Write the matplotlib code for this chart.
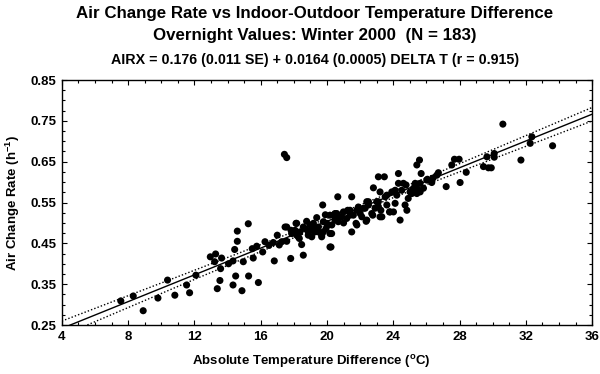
import numpy as np
import matplotlib
matplotlib.use("Agg")
import matplotlib.pyplot as plt
from matplotlib.ticker import MultipleLocator

plt.rcParams['font.family'] = ['Liberation Sans', 'DejaVu Sans']
plt.rcParams['font.weight'] = 'bold'
plt.rcParams['mathtext.fontset'] = 'custom'
plt.rcParams['mathtext.rm'] = 'Liberation Sans:bold'
plt.rcParams['mathtext.bf'] = 'Liberation Sans:bold'
plt.rcParams['mathtext.it'] = 'Liberation Sans:bold'

# Absolute temperature difference (deg C) and air change rate (1/h)
delta_t = [
    7.56, 8.31, 8.91, 9.80, 10.38, 10.82, 11.53, 11.71, 12.09, 12.96, 13.28, 13.22,
    13.64, 13.58, 13.38, 13.54, 14.06, 14.33, 14.43, 14.59, 14.59, 15.25, 14.49, 14.33,
    14.87, 15.27, 14.95, 15.55, 15.49, 15.76, 15.86, 16.12, 16.26,
    16.82, 16.76, 17.12, 17.43, 17.57, 17.47, 17.57, 17.81, 17.83, 18.13, 18.17, 18.33,
    18.47, 18.57, 18.67, 18.77, 18.87, 18.98, 19.08, 19.18, 19.38, 19.48, 19.68, 19.74,
    19.78, 19.94, 20.08, 20.18, 20.24, 20.28, 20.48, 20.65, 20.68, 20.89, 20.99, 21.19,
    21.25, 21.39, 21.49, 21.49, 21.59, 21.75, 21.80, 21.89, 22.00, 22.20, 22.36, 22.40,
    22.50, 22.70, 22.80, 22.90, 23.10, 23.10, 23.20, 23.25, 23.31, 23.46, 23.51, 23.61,
    23.77, 23.91, 24.01, 24.11, 24.21, 24.31, 24.41, 24.51, 24.61, 24.71, 24.77, 24.82,
    25.01, 25.22, 25.42, 25.42, 25.58, 25.62, 25.68, 25.82, 26.02,
    21.80, 22.40, 22.76, 23.20, 23.81, 23.00, 23.10, 22.50, 22.30, 21.90, 21.39, 20.79,
    20.59, 20.49, 20.29, 20.18, 20.39, 19.98, 19.78, 19.68, 19.48, 19.18, 19.08, 18.87,
    18.57, 18.37, 18.27, 18.07, 17.87, 18.17, 17.57, 17.27, 20.18, 19.28, 24.11, 24.31,
    25.32, 25.42, 25.12, 23.61, 25.62, 26.63,
    16.50, 17.00, 19.90, 21.00, 22.10, 24.90, 26.40,
    26.06, 26.32, 26.72, 27.19, 27.53, 27.69, 27.97, 28.03, 28.40, 29.44, 29.65, 29.74,
    29.91, 30.09, 30.09, 30.61, 31.70, 32.26, 32.36, 33.61,
]
air_change = [
    0.309, 0.321, 0.285, 0.316, 0.360, 0.323, 0.348, 0.329, 0.372, 0.417, 0.424, 0.405,
    0.414, 0.388, 0.339, 0.359, 0.400, 0.407, 0.435, 0.455, 0.480, 0.498, 0.370, 0.348,
    0.334, 0.370, 0.405, 0.414, 0.437, 0.443, 0.354, 0.429, 0.454,
    0.407, 0.452, 0.446, 0.668, 0.660, 0.490, 0.455, 0.413, 0.482, 0.499, 0.470, 0.462,
    0.447, 0.421, 0.486, 0.504, 0.478, 0.495, 0.466, 0.486, 0.513, 0.478, 0.470, 0.544,
    0.503, 0.486, 0.495, 0.519, 0.441, 0.474, 0.523, 0.564, 0.503, 0.515, 0.527, 0.511,
    0.531, 0.519, 0.564, 0.478, 0.519, 0.499, 0.531, 0.539, 0.523, 0.536, 0.504, 0.552,
    0.544, 0.523, 0.586, 0.536, 0.552, 0.613, 0.576, 0.531, 0.515, 0.613, 0.564, 0.544,
    0.527, 0.576, 0.527, 0.548, 0.568, 0.621, 0.507, 0.580, 0.597, 0.544, 0.593, 0.531,
    0.576, 0.585, 0.572, 0.642, 0.654, 0.597, 0.621, 0.585, 0.605,
    0.495, 0.507, 0.519, 0.515, 0.527, 0.552, 0.540, 0.552, 0.536, 0.536, 0.531, 0.515,
    0.523, 0.507, 0.495, 0.474, 0.519, 0.499, 0.478, 0.466, 0.490, 0.499, 0.482, 0.470,
    0.490, 0.478, 0.466, 0.482, 0.474, 0.499, 0.490, 0.454, 0.441, 0.478, 0.580, 0.597,
    0.597, 0.585, 0.572, 0.568, 0.576, 0.617,
    0.445, 0.470, 0.520, 0.500, 0.515, 0.560, 0.610,
    0.607, 0.599, 0.623, 0.589, 0.642, 0.656, 0.656, 0.599, 0.624, 0.638, 0.662, 0.635,
    0.635, 0.670, 0.661, 0.742, 0.654, 0.695, 0.711, 0.689,
]

# Regression reported in the title
intercept, intercept_se = 0.176, 0.011
slope, slope_se = 0.0164, 0.0005
t_crit = 1.973

x_ticks = [4, 8, 12, 16, 20, 24, 28, 32, 36]
y_ticks = [0.25, 0.35, 0.45, 0.55, 0.65, 0.75, 0.85]

fig = plt.figure(figsize=(6.0, 3.74), dpi=100)
ax = fig.add_axes([0.103, 0.131, 0.884, 0.655])

x = np.asarray(delta_t)
y = np.asarray(air_change)
xbar = x.mean()
s2n = max(intercept_se**2 - xbar**2 * slope_se**2, 1e-6)

xl = np.linspace(x_ticks[0], x_ticks[-1], 200)
yl = intercept + slope * xl
half = t_crit * np.sqrt(s2n + (xl - xbar)**2 * slope_se**2)

ax.scatter(x, y, s=26, color='black', edgecolors='none', zorder=3)
ax.plot(xl, yl, color='black', lw=1.0, zorder=2)
ax.plot(xl, yl + half, color='black', lw=1.0, ls=(0, (1, 1.5)), zorder=2)
ax.plot(xl, yl - half, color='black', lw=1.0, ls=(0, (1, 1.5)), zorder=2)

ax.set_xlim(x_ticks[0], x_ticks[-1])
ax.set_ylim(y_ticks[0], y_ticks[-1])
ax.set_xticks(x_ticks)
ax.set_yticks(y_ticks)
ax.set_xticklabels([str(v) for v in x_ticks])
ax.set_yticklabels([f"{v:.2f}" for v in y_ticks])
ax.xaxis.set_minor_locator(MultipleLocator(1))
ax.yaxis.set_minor_locator(MultipleLocator(0.025))
ax.tick_params(which='both', direction='in', top=True, right=True, width=0.8)
ax.tick_params(which='major', length=3.5, labelsize=9.5, pad=4)
ax.tick_params(which='minor', length=2)
for sp in ax.spines.values():
    sp.set_linewidth(1.0)

ax.set_xlabel(r"Absolute Temperature Difference ($^{\mathbf{o}}$C)", fontsize=9.5,
              fontweight='bold', labelpad=10)
ax.xaxis.set_label_coords(0.47, -0.115)
ax.set_ylabel(r"Air Change Rate (h$^{\mathbf{-1}}$)", fontsize=9.5,
              fontweight='bold', labelpad=6)

cx = 0.525
fig.text(cx, 0.963, "Air Change Rate vs Indoor-Outdoor Temperature Difference",
         ha='center', va='center', fontsize=12.2, fontweight='bold')
fig.text(cx, 0.905, "Overnight Values: Winter 2000  (N = 183)",
         ha='center', va='center', fontsize=12.2, fontweight='bold')
fig.text(cx, 0.840, "AIRX = 0.176 (0.011 SE) + 0.0164 (0.0005) DELTA T (r = 0.915)",
         ha='center', va='center', fontsize=10.3, fontweight='bold')

fig.savefig("out.png", dpi=100)
